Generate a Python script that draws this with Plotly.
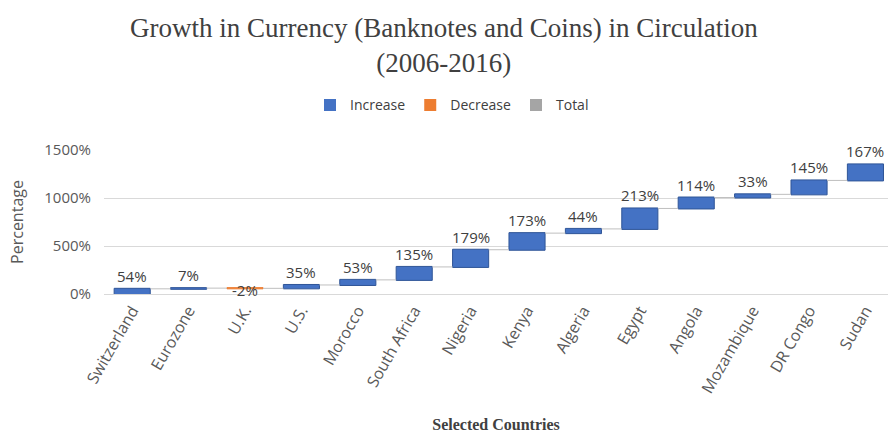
import numpy as np
import plotly.graph_objects as go

countries = ["Switzerland", "Eurozone", "U.K.", "U.S.", "Morocco", "South Africa",
             "Nigeria", "Kenya", "Algeria", "Egypt", "Angola", "Mozambique",
             "DR Congo", "Sudan"]
growth = [54, 7, -2, 35, 53, 135, 179, 173, 44, 213, 114, 33, 145, 167]
y_ticks = [0, 500, 1000, 1500]

inc_color = "#4472C4"
dec_color = "#ED7D31"
tot_color = "#A5A5A5"
sans = "Open Sans"
serif = "Liberation Serif"

fig = go.Figure()
fig.add_trace(go.Waterfall(
    x=countries, y=growth, measure=["relative"] * len(growth),
    increasing=dict(marker=dict(color=inc_color, line=dict(color="#2F5597", width=1))),
    decreasing=dict(marker=dict(color=dec_color, line=dict(color=dec_color, width=1))),
    totals=dict(marker=dict(color=tot_color)),
    connector=dict(line=dict(color="#BFBFBF", width=1)),
    width=0.64, showlegend=False, hoverinfo="skip",
))

for name, col in [("Increase", inc_color), ("Decrease", dec_color), ("Total", tot_color)]:
    fig.add_trace(go.Scatter(x=[None], y=[None], mode="markers", name=name,
                             marker=dict(symbol="square", size=10, color=col)))

cum = np.cumsum(growth)
start = cum - np.array(growth)
for c, g, s, e in zip(countries, growth, start, cum):
    if g >= 0:
        fig.add_annotation(x=c, y=e, text=f"{g}%", showarrow=False, yanchor="bottom",
                           yshift=1, font=dict(family=sans, size=15, color="#404040"))
    else:
        fig.add_annotation(x=c, y=(s + e) / 2, text=f"{g}%", showarrow=False,
                           yanchor="middle", yshift=-2,
                           font=dict(family=sans, size=15, color="#404040"))

# Title as a two-line annotation
fig.add_annotation(text="Growth in Currency (Banknotes and Coins) in Circulation<br>(2006-2016)",
                   xref="paper", yref="paper", x=(444 - 104) / 784, y=1 + (150 - 11) / 144,
                   xanchor="center", yanchor="top", showarrow=False,
                   font=dict(family=serif, size=27, color="#404040"))

fig.update_layout(
    width=888, height=433,
    margin=dict(l=104, r=0, t=150, b=139),
    paper_bgcolor="white", plot_bgcolor="white",
    legend=dict(orientation="h", x=(452 - 104) / 784, xanchor="center", y=1.31, yanchor="middle",
                font=dict(family=sans, size=14, color="#404040"),
                itemsizing="constant", itemwidth=30, traceorder="normal"),
    xaxis=dict(tickangle=-60, tickfont=dict(family=sans, size=16, color="#595959"),
               range=[-0.5, 13.4],
               showline=True, linecolor="#D9D9D9", ticks="",
               title=dict(text="<b>Selected Countries</b>", standoff=24,
                          font=dict(family=serif, size=16, color="#404040"))),
    yaxis=dict(range=[0, 1500], tickvals=y_ticks, ticktext=[f"{v}%" for v in y_ticks],
               tickfont=dict(family=sans, size=15, color="#595959"),
               ticklabelstandoff=12,
               gridcolor="#D9D9D9", zeroline=False, ticks="",
               title=dict(text="Percentage", standoff=16,
                          font=dict(family=sans, size=16, color="#595959"))),
)

fig.write_html("out.html")
